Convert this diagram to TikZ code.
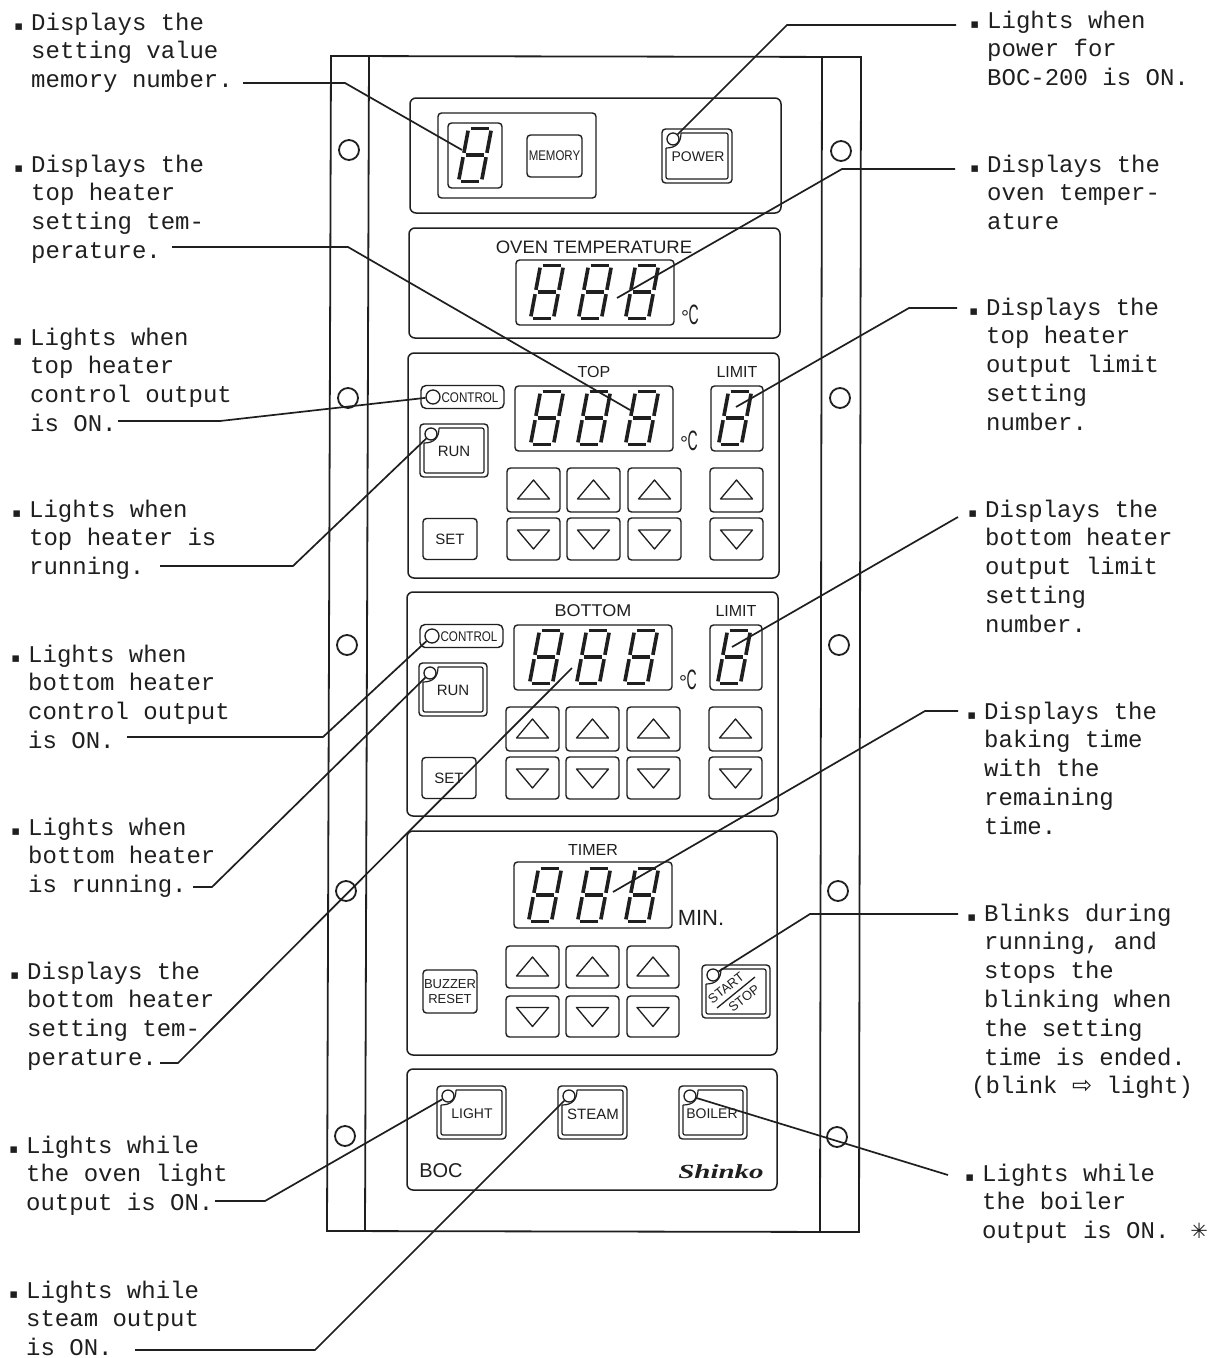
\documentclass[tikz,border=0pt]{standalone}
\usepackage{fontspec}
\usepackage{graphicx}
\setmainfont{Liberation Sans}
\newfontfamily\labfont{Liberation Mono}
\newfontfamily\symfont{DejaVu Sans}
\newfontfamily\logofont{Liberation Serif}
\definecolor{ink}{gray}{0.12}
\newcommand\bul{\leavevmode\llap{{\symfont\fontsize{13}{13}\selectfont ▪}\hspace{8pt}}}
\newcommand\degc{°\kern-.5pt\scalebox{.7}[1.4]{C}}
\tikzset{
  x=1pt,y=-1pt,
  lab/.style={anchor=north west,inner sep=0pt,align=left,text=ink,yshift=.5pt,font=\labfont\fontsize{24}{28.8}\selectfont},
  plate/.style={draw=ink,line width=1.8pt},
  panel/.style={draw=ink,line width=1.5pt,rounded corners=6pt},
  key/.style={draw=ink,line width=1.4pt,rounded corners=3.5pt},
  leader/.style={draw=ink,line width=1.7pt},
  led/.style={circle,draw=ink,line width=1.3pt,fill=white,inner sep=0pt,minimum size=12pt},
  seg/.style={draw=ink,line width=3.6pt,shorten >=2.2pt,shorten <=2.2pt},
  plab/.style={inner sep=0pt,text=ink,font=\fontsize{16}{16}\selectfont},
  btext/.style={inner sep=0pt,text=ink,font=\fontsize{14}{14}\selectfont,align=center},
  keybox/.style={key,inner sep=0pt,text=ink,font=\fontsize{14}{14}\selectfont,align=center},
  sevenseg/.pic={
    \coordinate (tl) at (-6.5,-26.5); \coordinate (tr) at (16.5,-26.5);
    \coordinate (ml) at (-11.5,0); \coordinate (mr) at (11.5,0);
    \coordinate (bl) at (-16.5,26.5); \coordinate (br) at (6.5,26.5);
    \path[seg] (tl)--(tr); \path[seg] (ml)--(mr); \path[seg] (bl)--(br);
    \path[seg] (tl)--(ml); \path[seg] (ml)--(bl); \path[seg] (tr)--(mr); \path[seg] (mr)--(br);
  },
}
% arrow keys: x, y, w, h
\newcommand\upkey[4]{\begin{scope}[shift={(#1,#2)}]
  \draw[key] (0,0) rectangle (#3,#4);
  \draw[draw=ink,line width=1.3pt,line join=round] ({#3/2},{#4/2-10}) -- ({#3/2+16},{#4/2+9}) -- ({#3/2-16},{#4/2+9}) -- cycle;
\end{scope}}
\newcommand\downkey[4]{\begin{scope}[shift={(#1,#2)}]
  \draw[key] (0,0) rectangle (#3,#4);
  \draw[draw=ink,line width=1.3pt,line join=round] ({#3/2},{#4/2+10}) -- ({#3/2+16},{#4/2-9}) -- ({#3/2-16},{#4/2-9}) -- cycle;
\end{scope}}
% lit key: name, x, y, w, h
\newcommand\litkey[5]{\begin{scope}[shift={(#2,#3)}]
  \draw[key] (0,0) rectangle (#4,#5);
  \draw[draw=ink,line width=1.2pt,rounded corners=2pt] (4,19) -- (4,{#5-4}) -- ({#4-4},{#5-4}) -- ({#4-4},4) -- (19,4);
  \draw[draw=ink,line width=1.2pt] (19,4) .. controls (19,14) and (14,19) .. (4,19);
  \node[led] (#1) at (11,10) {};
\end{scope}}
% heater panel: dx, dy offset
\newcommand\heater[3]{\begin{scope}[shift={(#1,#2)}]
  \upkey{507}{468}{53}{44}\upkey{567}{468}{53}{44}\upkey{628}{468}{53}{44}\upkey{710}{468}{53}{44}
  \downkey{507}{518}{53}{42}\downkey{567}{518}{53}{42}\downkey{628}{518}{53}{42}\downkey{710}{518}{53}{42}
  \draw[key] (515,386) rectangle (673,451);
  \draw[key] (711,386) rectangle (763,451);
  \pic at (547,418) {sevenseg}; \pic at (594,418) {sevenseg}; \pic at (642,418) {sevenseg}; \pic at (735,418) {sevenseg};
  \node[plab,font=\fontsize{20}{20}\selectfont] (#3deg) at (689,441) {\degc};
  \node[plab] (#3limit) at (737,372) {LIMIT};
\end{scope}}
\begin{document}
\begin{tikzpicture}
\useasboundingbox[fill=white] (0,0) rectangle (1221,1358);

% cabinet plate
\draw[plate] (331,56) -- (861,57) -- (859,1232) -- (327,1231) -- cycle;
\draw[plate] (369,56) -- (365,1231);
\draw[plate] (822,57) -- (820,1232);
\foreach \cx/\cy in {349/150,348/398,347/645,346/891,345/1136,841/151,840/398,839/645,838/891,837/1137}
  \draw[draw=ink,line width=1.8pt] (\cx,\cy) circle (10);

% section panels
\draw[panel] (410,98) rectangle (781,213);
\draw[panel] (409,228) rectangle (780,338);
\draw[panel] (408,353) rectangle (779,578);
\draw[panel] (407,592) rectangle (778,816);
\draw[panel] (407,831) rectangle (777,1055);
\draw[panel] (407,1069) rectangle (777,1190);

% memory / power
\draw[key] (438,113) rectangle (596,198);
\draw[key] (448,123) rectangle (502,188);
\pic at (475,155) {sevenseg};
\node[keybox,minimum width=55pt,minimum height=42pt] (memory) at (554.5,156) {\scalebox{.82}[1]{MEMORY}};
\litkey{ledpower}{662}{129}{70}{54}
\node[btext] (powertxt) at (698,157) {POWER};

% oven temperature
\node[plab,font=\fontsize{18}{18}\selectfont] (oventxt) at (594,247) {\scalebox{1.03}[1]{OVEN TEMPERATURE}};
\draw[key] (516,260) rectangle (674,325);
\pic at (547,292) {sevenseg}; \pic at (595,292) {sevenseg}; \pic at (642,292) {sevenseg};
\node[plab,font=\fontsize{20}{20}\selectfont] (ovendeg) at (690,315) {\degc};

% top heater
\node[plab] (toptxt) at (594,372) {TOP};
\heater{0}{0}{top}
\node[keybox,minimum width=83pt,minimum height=23pt,rounded corners=5pt] (ctrlbox) at (462.5,397) {};
\node[led,minimum size=14pt] (ledctrl) at (433,397) {};
\node[btext] (ctrltxt) at (470,398) {\scalebox{.83}[1]{CONTROL}};
\litkey{ledrun}{420}{424}{68}{53}
\node[btext,font=\fontsize{15}{15}\selectfont] (runtxt) at (454,451) {RUN};
\node[keybox,font=\fontsize{15}{15}\selectfont,minimum width=54pt,minimum height=41pt] (settop) at (450,539) {SET};

% bottom heater
\node[plab,font=\fontsize{17}{17}\selectfont] (bottxt) at (593,611) {\scalebox{1.06}[1]{BOTTOM}};
\heater{-1}{239}{bot}
\node[keybox,minimum width=83pt,minimum height=23pt,rounded corners=5pt] (ctrlboxb) at (461.5,636) {};
\node[led,minimum size=14pt] (ledctrlb) at (432,636) {};
\node[btext] (ctrltxtb) at (469,637) {\scalebox{.83}[1]{CONTROL}};
\litkey{ledrunb}{419}{663}{68}{53}
\node[btext,font=\fontsize{15}{15}\selectfont] (runtxtb) at (453,690) {RUN};
\node[keybox,font=\fontsize{15}{15}\selectfont,minimum width=54pt,minimum height=41pt] (setbot) at (449,778) {SET};

% timer
\node[plab] (timertxt) at (593,850) {TIMER};
\draw[key] (514,862) rectangle (672,928);
\pic at (545,895) {sevenseg}; \pic at (594,895) {sevenseg}; \pic at (642,895) {sevenseg};
\node[plab,font=\fontsize{22}{22}\selectfont] (mintxt) at (701,918) {MIN.};
\upkey{506}{946}{53}{42}\upkey{566}{946}{53}{42}\upkey{627}{946}{52}{42}
\downkey{506}{996}{53}{41}\downkey{566}{996}{53}{41}\downkey{627}{996}{52}{41}
\node[keybox,font=\fontsize{13}{15}\selectfont,minimum width=54pt,minimum height=43pt] (buzzer) at (450,991.5) {BUZZER\\RESET};
\litkey{ledstart}{702}{965}{68}{53}
\node[btext,font=\fontsize{13}{13}\selectfont,rotate=38] (starttxt) at (726,988) {START};
\node[btext,font=\fontsize{13}{13}\selectfont,rotate=38] (stoptxt) at (744,998) {STOP};
\coordinate (slashA) at (717,1008); \coordinate (slashB) at (755,977);
\draw[draw=ink,line width=1.3pt] (slashA) -- (slashB);

% bottom row
\litkey{ledlight}{437}{1086}{69}{53}
\node[btext] (lighttxt) at (472,1114) {LIGHT};
\litkey{ledsteam}{558}{1086}{69}{53}
\node[btext,font=\fontsize{15}{15}\selectfont] (steamtxt) at (593,1114) {STEAM};
\litkey{ledboiler}{679}{1086}{68}{53}
\node[btext] (boilertxt) at (712,1114) {BOILER};
\node[plab,font=\fontsize{20}{20}\selectfont] (boctxt) at (441,1171) {BOC};
\node[plab,font=\logofont\bfseries\itshape\fontsize{20}{20}\selectfont] (logo) at (721,1172) {\scalebox{1.45}[1]{Shinko}};

% left labels
\node[lab] (la) at (31,13) {\bul Displays the\\setting value\\memory number.};
\node[lab] (lb) at (31,155) {\bul Displays the\\top heater\\setting tem-\\perature.};
\node[lab] (lc) at (30,328) {\bul Lights when\\top heater\\control output\\is ON.};
\node[lab] (ld) at (29,500) {\bul Lights when\\top heater is\\running.};
\node[lab] (le) at (28,645) {\bul Lights when\\bottom heater\\control output\\is ON.};
\node[lab] (lf) at (28,818) {\bul Lights when\\bottom heater\\is running.};
\node[lab] (lg) at (27,962) {\bul Displays the\\bottom heater\\setting tem-\\perature.};
\node[lab] (lh) at (26,1136) {\bul Lights while\\the oven light\\output is ON.};
\node[lab] (li) at (26,1281) {\bul Lights while\\steam output\\is ON.};

% right labels
\node[lab] (ra) at (987,11) {\bul Lights when\\power for\\BOC-200 is ON.};
\node[lab] (rb) at (987,155) {\bul Displays the\\oven temper-\\ature};
\node[lab] (rc) at (986,298) {\bul Displays the\\top heater\\output limit\\setting\\number.};
\node[lab] (rd) at (985,500) {\bul Displays the\\bottom heater\\output limit\\setting\\number.};
\node[lab] (re) at (984,702) {\bul Displays the\\baking time\\with the\\remaining\\time.};
\node[lab] (rf) at (984,904) {\bul Blinks during\\running, and\\stops the\\blinking when\\the setting\\time is ended.\\\hspace*{-13pt}(blink {\symfont\fontsize{24}{24}\selectfont ⇨} light)};
\node[lab] (rg) at (982,1164) {\bul Lights while\\the boiler\\output is ON.\hspace{21pt}{\symfont\fontsize{21}{24}\selectfont ✳}};

% leader anchors
\coordinate (ca) at (243,83);   \coordinate (caK) at (345,83);   \coordinate (ta) at (462,150);
\coordinate (cb) at (172,247);  \coordinate (cbK) at (348,247);  \coordinate (tb) at (630,410);
\coordinate (cc) at (118,421);  \coordinate (ccK) at (220,421);
\coordinate (cd) at (160,566);  \coordinate (cdK) at (293,566);
\coordinate (ce) at (127,737);  \coordinate (ceK) at (323,737);
\coordinate (cf) at (193,887);  \coordinate (cfK) at (212,887);
\coordinate (cg) at (160,1063); \coordinate (cgK) at (178,1063); \coordinate (tg) at (572,668);
\coordinate (ch) at (215,1201); \coordinate (chK) at (265,1201);
\coordinate (ci) at (135,1350); \coordinate (ciK) at (315,1350);
\coordinate (da) at (956,25);   \coordinate (daK) at (787,25);
\coordinate (db) at (955,169);  \coordinate (dbK) at (842,169);  \coordinate (tdb) at (617,298);
\coordinate (dc) at (957,308);  \coordinate (dcK) at (909,308);  \coordinate (tdc) at (736,407);
\coordinate (dd) at (958,517);  \coordinate (tdd) at (732,647);
\coordinate (de) at (958,711);  \coordinate (deK) at (925,711);  \coordinate (tde) at (613,892);
\coordinate (df) at (958,914);  \coordinate (dfK) at (810,914);
\coordinate (dg) at (948,1175);

% leaders
\draw[leader] (ca) -- (caK) -- (ta);
\draw[leader] (cb) -- (cbK) -- (tb);
\draw[leader] (cc) -- (ccK) -- (ledctrl);
\draw[leader] (cd) -- (cdK) -- (ledrun);
\draw[leader] (ce) -- (ceK) -- (ledctrlb);
\draw[leader] (cf) -- (cfK) -- (ledrunb);
\draw[leader] (cg) -- (cgK) -- (tg);
\draw[leader] (ch) -- (chK) -- (ledlight);
\draw[leader] (ci) -- (ciK) -- (ledsteam);
\draw[leader] (da) -- (daK) -- (ledpower);
\draw[leader] (db) -- (dbK) -- (tdb);
\draw[leader] (dc) -- (dcK) -- (tdc);
\draw[leader] (dd) -- (tdd);
\draw[leader] (de) -- (deK) -- (tde);
\draw[leader] (df) -- (dfK) -- (ledstart);
\draw[leader] (dg) -- (ledboiler);
\end{tikzpicture}
\end{document}
